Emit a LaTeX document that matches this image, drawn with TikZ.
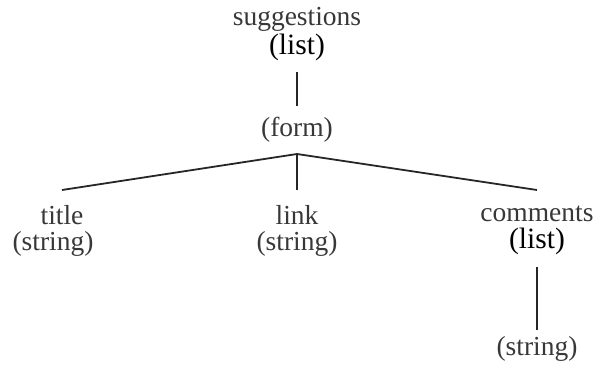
\documentclass[tikz,border=0pt]{standalone}
\usepackage{fontspec}
\setmainfont{Liberation Serif}
\begin{document}
\begin{tikzpicture}[x=1pt,y=-1pt,
  lbl/.style={font=\fontsize{27.5}{30}\selectfont, text=black!78, inner sep=0pt, anchor=center},
  typ/.style={font=\fontsize{29.5}{32}\selectfont, text=black, inner sep=0pt, anchor=center},
  conn/.style={draw=black!85, line width=1.8pt}]
\useasboundingbox (0,0) rectangle (593,366);
\node[lbl] (sugg) at (297,19) {suggestions};
\node[typ] (sugglist) at (297,47) {(list)};
\coordinate (s1) at (297,72);
\coordinate (s2) at (297,106);
\draw[conn] (s1) -- (s2);
\node[lbl] (form) at (297,130) {(form)};
\coordinate (j) at (297,154);
\coordinate (tt) at (62,190);
\coordinate (lt) at (297,190);
\coordinate (ct) at (537,190);
\draw[conn] (j) -- (tt);
\draw[conn] (j) -- (lt);
\draw[conn] (j) -- (ct);
\node[lbl] (title) at (62,215) {title};
\node[lbl] (titletype) at (53,244) {(string)};
\node[lbl] (link) at (297,215) {link};
\node[lbl] (linktype) at (297,244) {(string)};
\node[lbl] (comm) at (537,214) {comments};
\node[typ] (commlist) at (537,241) {(list)};
\coordinate (c1) at (537,267);
\coordinate (c2) at (537,330);
\draw[conn] (c1) -- (c2);
\node[lbl] (commtype) at (537,349) {(string)};
\end{tikzpicture}
\end{document}
